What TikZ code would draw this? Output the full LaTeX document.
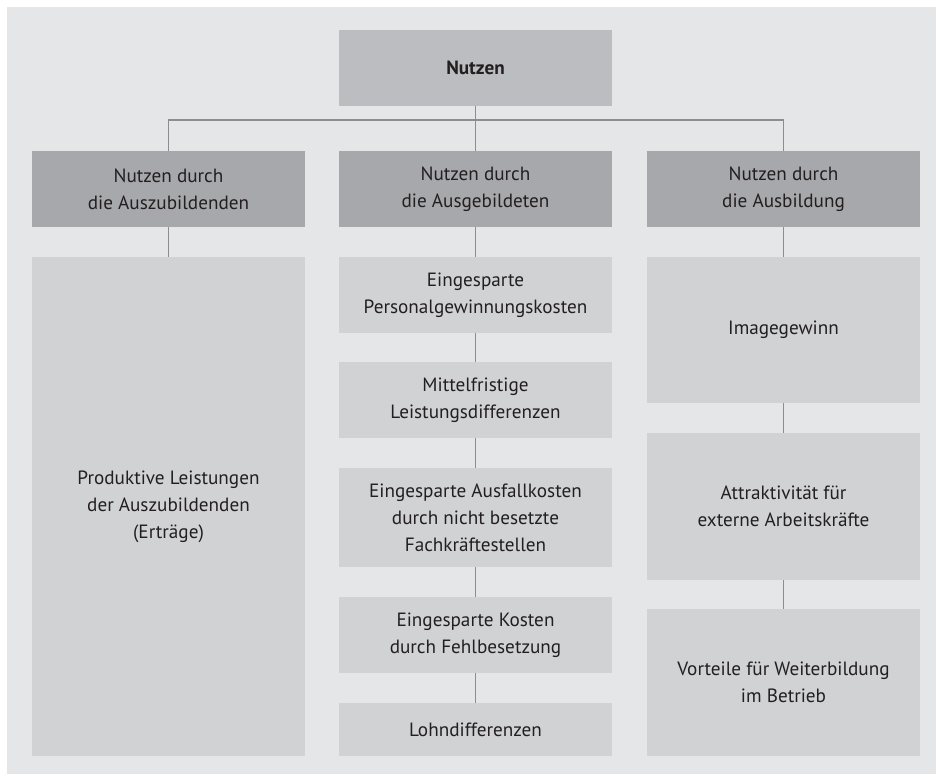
\documentclass[tikz,border=0pt]{standalone}
\usepackage{fontspec}
\setmainfont{PT Sans}
\definecolor{bgc}{HTML}{E5E6E8}
\definecolor{lthree}{HTML}{D1D2D4}
\definecolor{ltwo}{HTML}{A7A8AB}
\definecolor{lone}{HTML}{BCBDC0}
\definecolor{linec}{HTML}{8C8D90}
\definecolor{txt}{HTML}{231F20}
\tikzset{
  box/.style={inner sep=0pt, outer sep=0pt, align=center, text=txt,
    font=\fontsize{9.6}{13.5}\selectfont, minimum width=136.5pt},
  topbox/.style={box, fill=lone, minimum height=38pt, font=\fontsize{9.6}{13.5}\selectfont\bfseries},
  midbox/.style={box, fill=ltwo, minimum height=38pt},
  leafbox/.style={box, fill=lthree},
  conn/.style={draw=linec, line width=0.65pt}
}
\begin{document}
\begin{tikzpicture}[x=0.5pt,y=-0.5pt]
\useasboundingbox (0,0) rectangle (936,773);
\fill[white] (0,0) rectangle (936,773);
\fill[bgc] (7,7) rectangle (945,782);
% top
\node[topbox] (top) at (475.5,68) {Nutzen};
% level 2
\node[midbox] (ca) at (168.5,189) {Nutzen durch\\die Auszubildenden};
\node[midbox] (cb) at (475.5,189) {Nutzen durch\\die Ausgebildeten};
\node[midbox] (cc) at (783.5,189) {Nutzen durch\\die Ausbildung};
% left column
\node[leafbox, minimum height=249.5pt] (a1) at (168.5,506.5) {Produktive Leistungen\\der Auszubildenden\\(Erträge)};
% middle column
\node[leafbox, minimum height=37.75pt] (b1) at (475.5,294.75) {Eingesparte\\Personalgewinnungskosten};
\node[leafbox, minimum height=37.75pt] (b2) at (475.5,399.75) {Mittelfristige\\Leistungsdifferenzen};
\node[leafbox, minimum height=49.5pt] (b3) at (475.5,517.5) {Eingesparte Ausfallkosten\\durch nicht besetzte\\Fachkräftestellen};
\node[leafbox, minimum height=38pt] (b4) at (475.5,635) {Eingesparte Kosten\\durch Fehlbesetzung};
\node[leafbox, minimum height=26.5pt] (b5) at (475.5,729.5) {Lohndifferenzen};
% right column
\node[leafbox, minimum height=73pt] (c1) at (783.5,329.5) {Imagegewinn};
\node[leafbox, minimum height=73.5pt] (c2) at (783.5,506.5) {Attraktivität für\\externe Arbeitskräfte};
\node[leafbox, minimum height=73.5pt] (c3) at (783.5,682.5) {Vorteile für Weiterbildung\\im Betrieb};
% connectors
\coordinate (bus) at (475.5,120);
\draw[conn] (ca.north) |- (bus) -| (cc.north);
\draw[conn] (top.south) -- (cb.north);
\draw[conn] (ca.south) -- (a1.north);
\draw[conn] (cb.south) -- (b1.north);
\draw[conn] (b1.south) -- (b2.north);
\draw[conn] (b2.south) -- (b3.north);
\draw[conn] (b3.south) -- (b4.north);
\draw[conn] (b4.south) -- (b5.north);
\draw[conn] (cc.south) -- (c1.north);
\draw[conn] (c1.south) -- (c2.north);
\draw[conn] (c2.south) -- (c3.north);
\end{tikzpicture}
\end{document}
